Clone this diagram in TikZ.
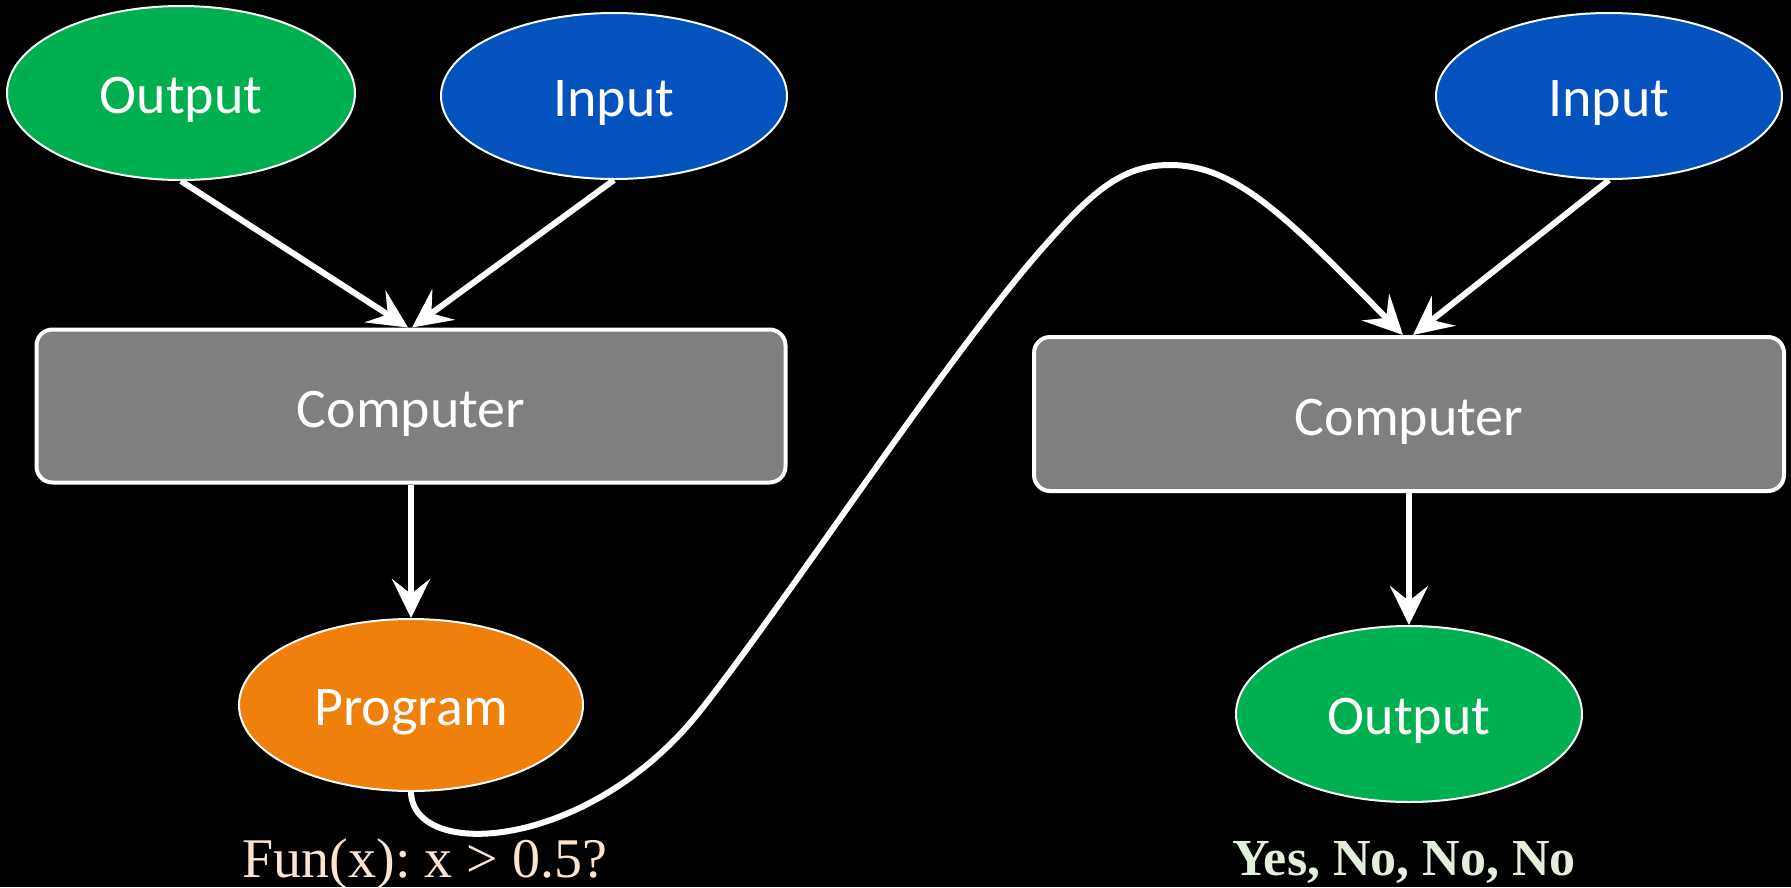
\documentclass[tikz,border=0pt]{standalone}
\usepackage{fontspec}
\setmainfont{Carlito}
\newfontfamily\serifface{Liberation Serif}
\frenchspacing
\usetikzlibrary{shapes.geometric,arrows.meta}
\definecolor{okgreen}{HTML}{00B050}
\definecolor{inblue}{HTML}{0452BE}
\definecolor{progorange}{HTML}{F0800C}
\definecolor{boxgray}{HTML}{7F7F7F}
\definecolor{peach}{HTML}{FCE4D0}
\definecolor{mint}{HTML}{E2EFDA}
\tikzset{
  blob/.style={ellipse, draw=white, line width=2pt, inner sep=0pt,
    minimum width=346pt, minimum height=170pt, text=white,
    text height=40pt, text depth=0pt,
    font=\fontsize{56}{60}\selectfont},
  machine/.style={rectangle, rounded corners=16pt, draw=white, line width=4pt,
    fill=boxgray, minimum width=750pt, minimum height=154pt, text=white,
    text height=42pt, text depth=0pt,
    font=\fontsize{56}{60}\selectfont},
  flow/.style={white, line width=6pt,
    -{Stealth[length=39pt,width=38pt,inset=15pt]}},
  note/.style={font=\serifface\fontsize{56}{60}\selectfont, anchor=base}
}
\begin{document}
\begin{tikzpicture}[x=1pt,y=-1pt]
  \fill[black] (0,0) rectangle (1791,887);
  \useasboundingbox (0,0) rectangle (1791,887);

  % left half: compiling a program
  \node[blob, fill=okgreen, minimum width=348pt, minimum height=174pt] (out1) at (181,93) {Output};
  \node[blob, fill=inblue, minimum height=166pt] (in1) at (614,96) {Input};
  \node[machine, minimum width=749pt, minimum height=153pt] (comp1) at (411,406) {Computer};
  \node[blob, fill=progorange, minimum width=344pt, minimum height=172pt] (prog) at (411,705) {Program};
  \node[note, text=peach] (rule) at (425,877) {Fun(x): x > 0.5?};

  % right half: running it
  \node[blob, fill=inblue, minimum height=166pt] (in2) at (1609,96) {Input};
  \node[machine] (comp2) at (1409,414) {Computer};
  \node[blob, fill=okgreen, minimum height=176pt] (out2) at (1409,714) {Output};
  \node[note, text=mint, font=\serifface\bfseries\fontsize{52}{60}\selectfont] (answers) at (1404,875) {Yes, No, No, No};

  % connectors
  \draw[flow] (out1.south) -- ([xshift=-3pt]comp1.north);
  \draw[flow] (in1.south) -- ([xshift=1pt]comp1.north);
  \draw[flow] (comp1.south) -- (prog.north);
  \draw[flow] (in2.south) -- ([xshift=4pt]comp2.north);
  \draw[flow] (comp2.south) -- (out2.north);
  \draw[flow] (prog.south)
    .. controls (413,862) and (590,850) .. (700,711)
    .. controls (790,597) and (940,366) .. (1040,251)
    .. controls (1090,194) and (1120,165) .. (1170,165)
    .. controls (1235,165) and (1285,215) .. ([xshift=-6pt]comp2.north);
\end{tikzpicture}
\end{document}
